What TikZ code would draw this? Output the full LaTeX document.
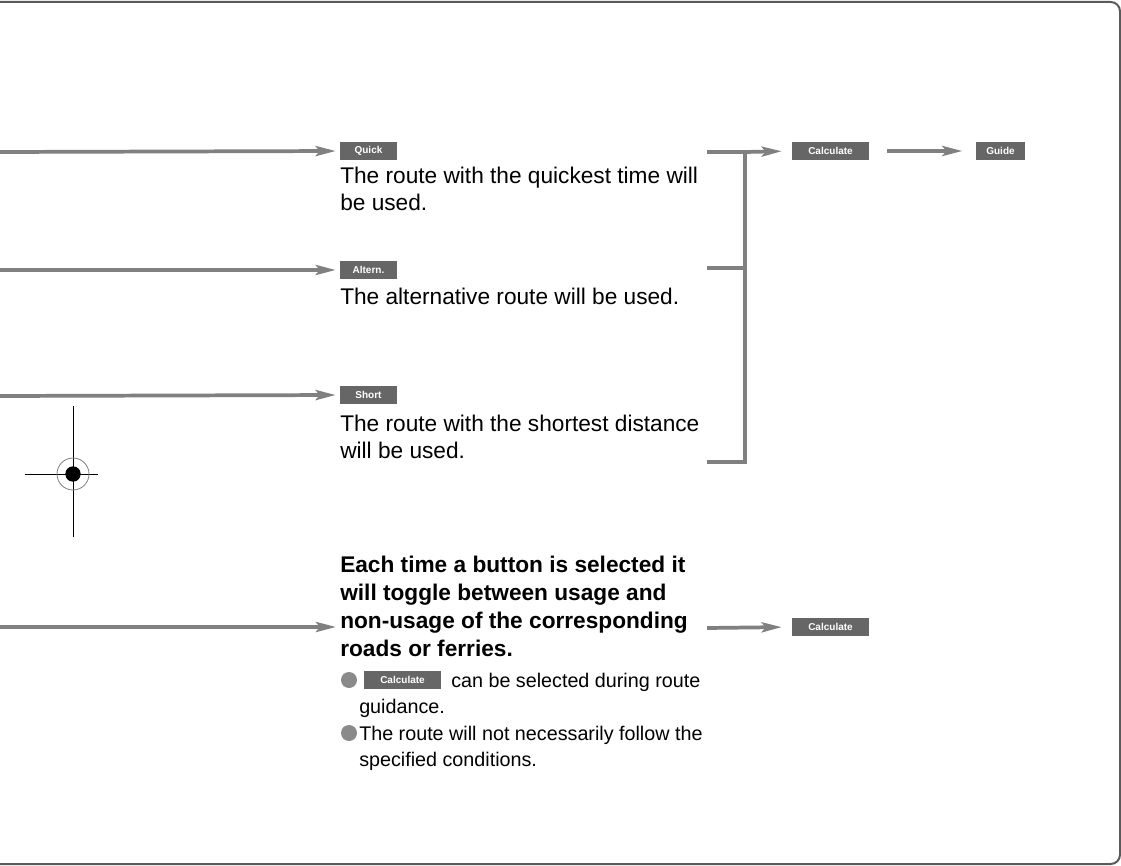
\documentclass[tikz,border=0pt]{standalone}
\usepackage{fontspec}
\setmainfont{Liberation Sans}
\usetikzlibrary{arrows.meta,positioning,calc}
\definecolor{linegray}{HTML}{808080}
\definecolor{framegray}{HTML}{5A5A5A}
\definecolor{btngray}{HTML}{666666}
\definecolor{dotgray}{HTML}{8A8A8A}

\begin{document}
\begin{tikzpicture}[
    x=0.75pt, y=-0.75pt,
    btn/.style={fill=btngray, text=white, inner sep=0pt, minimum height=13.5pt, minimum width=42.75pt, font=\fontsize{7.5}{8}\selectfont\bfseries},
    wide/.style={btn, minimum width=57.75pt},
    desc/.style={anchor=base west, inner sep=0pt, align=left, font=\fontsize{17}{20.25}\selectfont},
    bold/.style={desc, font=\fontsize{17}{20.8}\selectfont\bfseries},
    note/.style={anchor=base west, inner sep=0pt, align=left, font=\fontsize{14.8}{19.3}\selectfont},
    bullet/.style={circle, fill=dotgray, inner sep=0pt, minimum size=12pt},
    arrow/.style={-{Stealth[length=15pt,width=7.5pt,inset=3pt]}, line width=2.8pt, color=linegray},
    link/.style={line width=2.8pt, color=linegray},
]
\useasboundingbox (0,0) rectangle (1121,866);
\draw[framegray, line width=1.5pt, rounded corners=7pt] (-40,2) rectangle (1120,864);

\node[btn] (quick) at (368.5,151) {Quick};
\node[btn] (altern) at (368.5,270) {Altern.};
\node[btn] (short) at (368.5,395) {Short};
\node[wide] (calc) at (830.5,151) {Calculate};
\node[btn, minimum width=36.75pt] (guide) at (1000.5,151) {Guide};
\node[wide] (recalc) at (830.5,627) {Calculate};

\node[desc] (quicktxt) at (340,211) {The route with the quickest time will\\be used.};
\node[desc] (alterntxt) at (340,305) {The alternative route will be used.};
\node[desc] (shorttxt) at (340,458) {The route with the shortest distance\\will be used.};
\node[bold] (toggle) at (340,656) {Each time a button is selected it\\will toggle between usage and\\non-usage of the corresponding\\roads or ferries.};

\node[bullet] (dot1) at (349,680) {};
\node[wide] (calcnote) at (402.5,680) {Calculate};
\node[note] (note1) at (359,713) {\hspace*{69pt}can be selected during route\\guidance.};
\node[bullet] (dot2) at (349,733) {};
\node[note] (note2) at (359,766) {The route will not necessarily follow the\\specified conditions.};

\coordinate (inquick) at (0,152);
\coordinate (inaltern) at (0,270);
\coordinate (inshort) at (0,396);
\coordinate (intoggle) at (0,627);
\coordinate (outtoggle) at (707,628);
\coordinate (brtop) at (745,152);
\coordinate (brmid) at (745,268);
\coordinate (brbot) at (745,462);

\draw[arrow, shorten >=3pt] (inquick) -- (quick.west);
\draw[arrow, shorten >=3pt] (inaltern) -- (altern.west);
\draw[arrow, shorten >=3pt] (inshort) -- (short.west);
\draw[arrow, shorten >=3pt] (intoggle) -- (intoggle -| toggle.west);

\draw[link] (707,152) -- (brtop) -- (brbot) -- (707,462);
\draw[link] (707,268) -- (brmid);
\draw[arrow, shorten >=7.5pt] (brtop) -- (calc.west);
\draw[arrow, shorten <=13.5pt, shorten >=10pt] (calc.east) -- (guide.west);
\draw[arrow, shorten >=7.5pt] (outtoggle) -- (recalc.west);

\draw[black, line width=0.6pt] (73,406) -- (73,537);
\draw[black, line width=0.6pt] (25,474) -- (98,474);
\draw[gray, line width=0.6pt] (73,474) circle[radius=16];
\fill[black] (73,474) circle[radius=7.7];
\end{tikzpicture}
\end{document}
